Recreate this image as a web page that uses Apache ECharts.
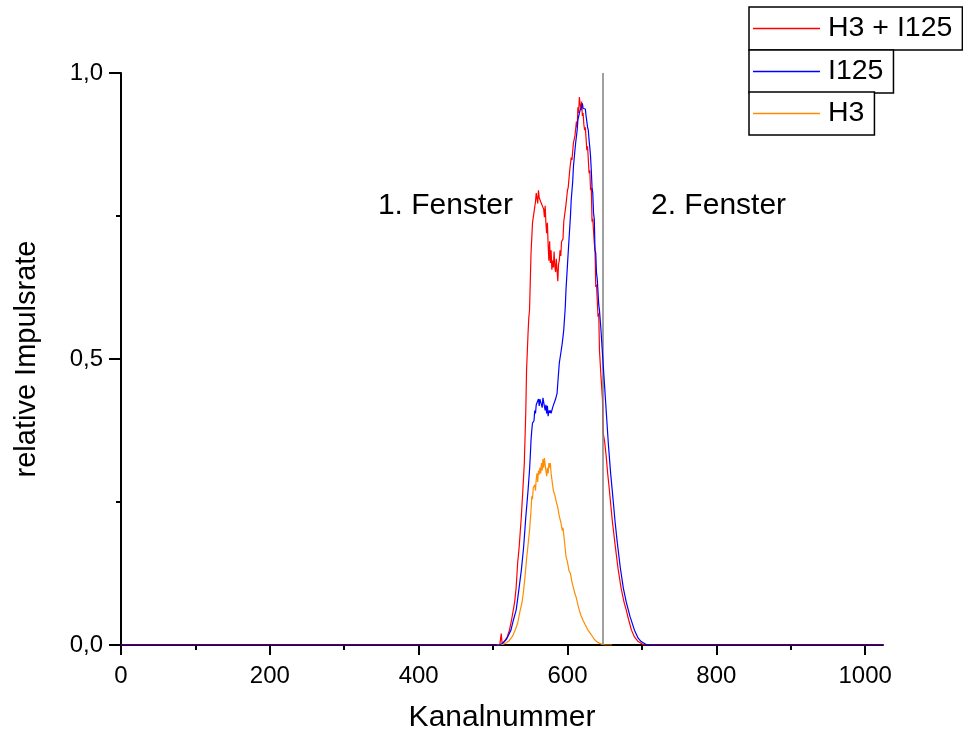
<!DOCTYPE html>
<html>
<head>
<meta charset="utf-8">
<script src="https://cdn.jsdelivr.net/npm/echarts@6/dist/echarts.min.js"></script>
<style>
  html, body { margin: 0; padding: 0; background: #fff; }
  #chart { width: 963px; height: 735px; }
</style>
</head>
<body>
<div id="chart"></div>
<script>
// Spectrum of H3 + I125 mixture and its single components (channel vs. relative count rate)
const redCh = [0, 509, 511, 512, 515, 519, 522, 525, 529, 531, 533, 535, 538, 540, 542, 544, 545, 547, 548, 549, 551, 553, 555, 557, 558, 560, 561, 562, 564, 566, 568, 569, 570, 571, 572, 573, 574, 575, 576, 577, 578, 579, 580, 581, 582, 583, 584, 585, 586, 587, 588, 589, 590, 591, 592, 594, 595, 596, 598, 600, 601, 603, 605, 606, 608, 610, 612, 613, 614, 615, 616, 617, 618, 619, 620, 621, 622, 623, 624, 626, 627, 629, 630, 631, 632, 633, 634, 636, 637, 638, 639, 641, 642, 643, 645, 647, 648, 650, 652, 654, 656, 660, 664, 668, 672, 676, 679, 682, 686, 690, 695, 700, 704, 1024];
const redVal = [0, 0, 0.02, 0.004, 0.006, 0.014, 0.026, 0.045, 0.075, 0.1, 0.143, 0.17, 0.225, 0.27, 0.318, 0.41, 0.48, 0.545, 0.572, 0.585, 0.685, 0.738, 0.74, 0.775, 0.79, 0.772, 0.795, 0.782, 0.775, 0.776, 0.762, 0.748, 0.768, 0.738, 0.72, 0.738, 0.7, 0.672, 0.706, 0.668, 0.69, 0.656, 0.672, 0.66, 0.688, 0.662, 0.652, 0.675, 0.655, 0.636, 0.666, 0.672, 0.69, 0.68, 0.705, 0.71, 0.74, 0.75, 0.77, 0.795, 0.8, 0.83, 0.852, 0.848, 0.878, 0.89, 0.915, 0.905, 0.94, 0.93, 0.958, 0.945, 0.935, 0.95, 0.925, 0.93, 0.91, 0.9, 0.905, 0.865, 0.872, 0.825, 0.83, 0.795, 0.8, 0.74, 0.745, 0.703, 0.69, 0.626, 0.63, 0.574, 0.58, 0.515, 0.47, 0.43, 0.37, 0.355, 0.33, 0.3, 0.275, 0.22, 0.175, 0.133, 0.1, 0.075, 0.061, 0.045, 0.026, 0.014, 0.006, 0.002, 0, 0];

const blueCh = [0, 508, 513, 518, 521, 524, 527, 531, 534, 538, 541, 544, 547, 549, 550, 551, 552, 553, 555, 556, 557, 558, 560, 561, 562, 563, 565, 566, 567, 569, 570, 571, 572, 573, 574, 575, 576, 577, 578, 580, 582, 584, 586, 587, 589, 591, 593, 595, 597, 598, 600, 602, 604, 605, 607, 608, 610, 611, 613, 614, 616, 617, 619, 620, 621, 622, 623, 624, 625, 626, 627, 628, 629, 630, 631, 632, 633, 634, 635, 636, 637, 638, 639, 640, 642, 643, 645, 646, 648, 650, 652, 655, 658, 661, 664, 667, 671, 675, 679, 684, 690, 695, 699, 704, 708, 1024];
const blueVal = [0, 0, 0.003, 0.01, 0.018, 0.026, 0.042, 0.061, 0.09, 0.131, 0.17, 0.224, 0.27, 0.306, 0.33, 0.358, 0.375, 0.388, 0.392, 0.41, 0.405, 0.42, 0.423, 0.43, 0.418, 0.43, 0.428, 0.415, 0.432, 0.432, 0.41, 0.42, 0.405, 0.418, 0.4, 0.41, 0.406, 0.41, 0.405, 0.415, 0.418, 0.43, 0.44, 0.458, 0.493, 0.51, 0.528, 0.551, 0.59, 0.621, 0.665, 0.708, 0.75, 0.778, 0.81, 0.836, 0.865, 0.878, 0.9, 0.918, 0.93, 0.935, 0.94, 0.947, 0.938, 0.94, 0.935, 0.937, 0.925, 0.924, 0.905, 0.9, 0.883, 0.87, 0.854, 0.83, 0.8, 0.79, 0.755, 0.745, 0.69, 0.685, 0.65, 0.64, 0.595, 0.585, 0.551, 0.53, 0.49, 0.45, 0.41, 0.35, 0.3, 0.258, 0.215, 0.178, 0.135, 0.1, 0.075, 0.05, 0.026, 0.012, 0.006, 0.002, 0, 0];

const orangeCh = [505, 513, 518, 522, 526, 530, 533, 536, 539, 541, 543, 545, 547, 549, 551, 552, 553, 554, 556, 557, 558, 559, 560, 561, 562, 563, 564, 565, 566, 567, 568, 569, 570, 571, 572, 573, 574, 575, 576, 577, 578, 579, 580, 581, 583, 585, 587, 589, 591, 593, 594, 596, 598, 600, 602, 604, 606, 608, 610, 612, 614, 616, 618, 621, 624, 628, 632, 636, 640, 645, 650, 660];
const orangeVal = [0, 0.001, 0.004, 0.008, 0.015, 0.027, 0.038, 0.058, 0.075, 0.095, 0.12, 0.15, 0.175, 0.2, 0.235, 0.26, 0.255, 0.275, 0.28, 0.27, 0.29, 0.3, 0.285, 0.305, 0.298, 0.31, 0.3, 0.318, 0.305, 0.325, 0.31, 0.327, 0.315, 0.305, 0.295, 0.31, 0.3, 0.318, 0.31, 0.318, 0.3, 0.29, 0.28, 0.27, 0.262, 0.25, 0.24, 0.225, 0.215, 0.2, 0.205, 0.18, 0.155, 0.145, 0.13, 0.125, 0.11, 0.1, 0.09, 0.082, 0.07, 0.06, 0.052, 0.043, 0.035, 0.025, 0.018, 0.01, 0.005, 0.002, 0, 0];

const seriesNames = ['H3 + I125', 'I125', 'H3'];
const seriesColors = ['#ff0000', '#0000ff', '#ff8c00'];
const xMajorTicks = [0, 200, 400, 600, 800, 1000];
const xMinorTicks = [100, 300, 500, 700, 900];
const windowBorder = 648;
const windowLabels = [
  { text: '1. Fenster', ch: 436, val: 0.768 },
  { text: '2. Fenster', ch: 803, val: 0.768 }
];

const FONT = '"Liberation Sans", Arial, Helvetica, sans-serif';
const zip = (xs, ys) => xs.map((x, i) => [x, ys[i]]);

const chart = echarts.init(document.getElementById('chart'), null, { renderer: 'canvas' });

// one framed box per legend entry, stacked in the top right corner
function legendBox(name, top) {
  return {
    data: [{ name: name, icon: 'rect' }],
    left: 749,
    top: top,
    orient: 'horizontal',
    selectedMode: false,
    padding: [6, 10, 6, 4],
    itemWidth: 67,
    itemHeight: 1.5,
    itemGap: 0,
    borderColor: '#000',
    borderWidth: 1.5,
    borderRadius: 0,
    backgroundColor: '#fff',
    textStyle: { fontFamily: FONT, fontSize: 28.5, color: '#000', lineHeight: 31, padding: [0, 0, 0, 3] }
  };
}

const option = {
  animation: false,
  backgroundColor: '#fff',
  grid: { left: 121, right: 80, top: 73, bottom: 90, containLabel: false, outerBoundsMode: 'none' },
  legend: [legendBox(seriesNames[0], 7), legendBox(seriesNames[1], 50), legendBox(seriesNames[2], 92)],
  xAxis: [
    {
      type: 'value', min: 0, max: 1024, interval: 200,
      name: 'Kanalnummer', nameLocation: 'middle', nameGap: 58,
      nameTextStyle: { fontFamily: FONT, fontSize: 30, color: '#000' },
      axisLine: { show: true, lineStyle: { color: '#000', width: 2 } },
      axisTick: { show: true, length: 10, lineStyle: { color: '#000', width: 2 }, customValues: xMajorTicks },
      axisLabel: {
        fontFamily: FONT, fontSize: 24, color: '#000', margin: 19, customValues: xMajorTicks,
        formatter: v => String(v)
      },
      splitLine: { show: false }
    },
    {
      type: 'value', min: 0, max: 1024, interval: 200, position: 'bottom',
      axisLine: { show: false },
      axisTick: { show: true, length: 5, lineStyle: { color: '#000', width: 2 }, customValues: xMinorTicks },
      axisLabel: { show: false },
      splitLine: { show: false }
    }
  ],
  yAxis: {
    type: 'value', min: 0, max: 1, interval: 0.5,
    name: 'relative Impulsrate', nameLocation: 'middle', nameGap: 80,
    nameTextStyle: { fontFamily: FONT, fontSize: 29, color: '#000' },
    axisLine: { show: true, lineStyle: { color: '#000', width: 2 } },
    axisTick: { show: true, length: 12, lineStyle: { color: '#000', width: 2 } },
    minorTick: { show: true, splitNumber: 2, length: 5, lineStyle: { color: '#000', width: 2 } },
    axisLabel: {
      fontFamily: FONT, fontSize: 24, color: '#000', margin: 18,
      formatter: v => v.toFixed(1).replace('.', ',')
    },
    splitLine: { show: false }
  },
  series: [
    {
      name: seriesNames[0], type: 'line', xAxisIndex: 0, data: zip(redCh, redVal),
      showSymbol: false, symbol: 'none', z: 3,
      lineStyle: { color: seriesColors[0], width: 1.2 }, itemStyle: { color: seriesColors[0] },
      markLine: {
        silent: true, symbol: 'none', label: { show: false },
        lineStyle: { color: '#808080', width: 1.5, type: 'solid' },
        data: [{ xAxis: windowBorder }]
      }
    },
    {
      name: seriesNames[1], type: 'line', xAxisIndex: 0, data: zip(blueCh, blueVal),
      showSymbol: false, symbol: 'none', z: 5,
      lineStyle: { color: seriesColors[1], width: 1.2 }, itemStyle: { color: seriesColors[1] }
    },
    {
      name: seriesNames[2], type: 'line', xAxisIndex: 0, data: zip(orangeCh, orangeVal),
      showSymbol: false, symbol: 'none', z: 4,
      lineStyle: { color: seriesColors[2], width: 1.2 }, itemStyle: { color: seriesColors[2] }
    }
  ]
};

chart.setOption(option);

// Window captions placed in data coordinates
const captions = windowLabels.map(w => {
  const p = chart.convertToPixel({ xAxisIndex: 0, yAxisIndex: 0 }, [w.ch, w.val]);
  return {
    type: 'text', x: p[0], y: p[1], z: 10,
    style: { text: w.text, fontFamily: FONT, fontSize: 30, fill: '#000', align: 'center', verticalAlign: 'middle' }
  };
});
chart.setOption({ graphic: captions });
</script>
</body>
</html>
